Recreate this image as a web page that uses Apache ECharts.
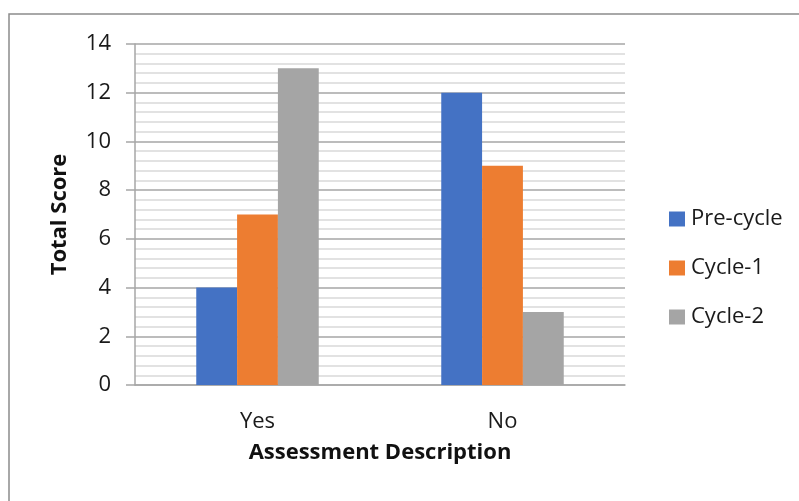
<!DOCTYPE html>
<html>
<head>
<meta charset="utf-8">
<script src="https://cdn.jsdelivr.net/npm/echarts@6/dist/echarts.min.js"></script>
<style>
  html, body { margin: 0; padding: 0; background: #fff; }
  #chart { width: 799px; height: 501px; }
</style>
</head>
<body>
<div id="chart"></div>
<script>
// Assessment results by description
const categories = ['Yes', 'No'];
const seriesNames = ['Pre-cycle', 'Cycle-1', 'Cycle-2'];
const preCycle = [4, 12];
const cycle1 = [7, 9];
const cycle2 = [13, 3];
const seriesColors = ['#4472C4', '#ED7D31', '#A5A5A5'];

const FONT = '"Open Sans", "Noto Sans", sans-serif';
const chart = echarts.init(document.getElementById('chart'), null, { renderer: 'canvas' });

const values = [preCycle, cycle1, cycle2];

chart.setOption({
  animation: false,
  backgroundColor: '#fff',
  graphic: [{
    type: 'rect',
    shape: { x: 9, y: 14, width: 820, height: 520 },
    style: { fill: 'none', stroke: '#8c8c8c', lineWidth: 1.5 },
    silent: true
  }],
  grid: { left: 135, right: 174, top: 44, bottom: 116, containLabel: false },
  legend: {
    orient: 'vertical',
    left: 664,
    top: 203,
    itemWidth: 16,
    itemHeight: 15,
    itemGap: 27,
    icon: 'rect',
    textStyle: { fontFamily: FONT, fontSize: 22, color: '#1a1a1a', padding: [0, 0, 0, 1] },
    data: seriesNames
  },
  xAxis: {
    type: 'category',
    data: categories,
    name: 'Assessment Description',
    nameLocation: 'middle',
    nameGap: 57,
    nameTextStyle: { fontFamily: FONT, fontSize: 22, fontWeight: 'bold', color: '#111' },
    axisLine: { lineStyle: { color: '#a6a6a6', width: 1.5 } },
    axisTick: { show: false },
    axisLabel: { fontFamily: FONT, fontSize: 22, color: '#1a1a1a', margin: 26 }
  },
  yAxis: {
    type: 'value',
    min: 0,
    max: 14,
    interval: 2,
    name: 'Total Score',
    nameLocation: 'middle',
    nameGap: 64,
    nameTextStyle: { fontFamily: FONT, fontSize: 22, fontWeight: 'bold', color: '#111' },
    axisLine: { show: true, lineStyle: { color: '#a6a6a6', width: 1.5 } },
    axisTick: { show: true, inside: false, length: 9, lineStyle: { color: '#a6a6a6', width: 1.5 } },
    axisLabel: { fontFamily: FONT, fontSize: 22, color: '#1a1a1a', margin: 24 },
    splitLine: { show: true, lineStyle: { color: '#a6a6a6', width: 1.5 } },
    minorTick: { show: false, splitNumber: 5 },
    minorSplitLine: { show: true, lineStyle: { color: '#d9d9d9', width: 1.5 } }
  },
  series: seriesNames.map((name, i) => ({
    name: name,
    type: 'bar',
    data: values[i],
    barGap: '0%',
    barCategoryGap: '50%',
    itemStyle: { color: seriesColors[i] }
  }))
});
</script>
</body>
</html>
